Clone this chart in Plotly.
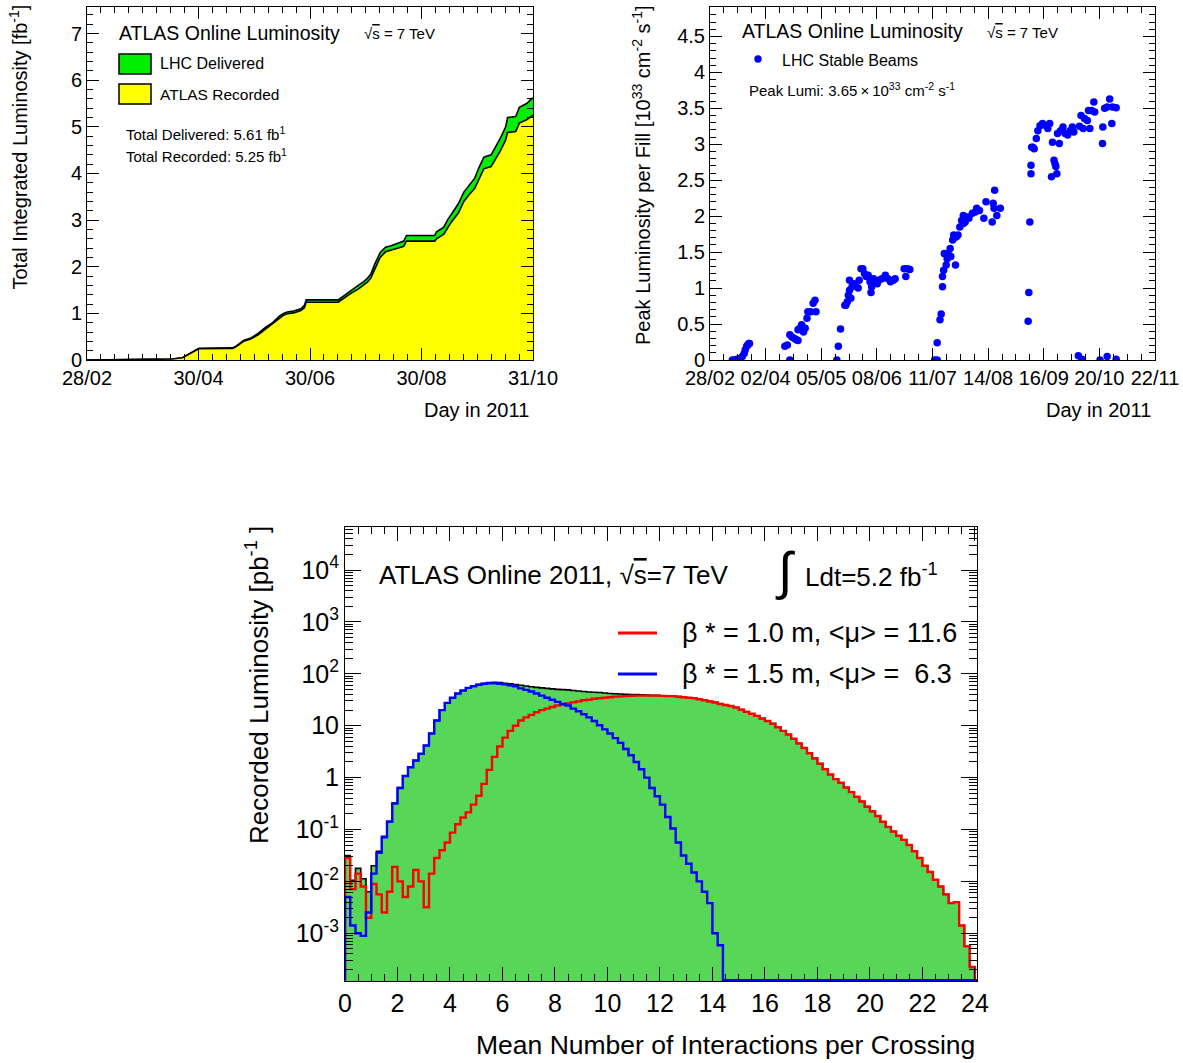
import numpy as np
import pandas as pd
import plotly.graph_objects as go

W, H = 1183, 1063
FONT = "Liberation Sans"
START = pd.Timestamp("2011-02-28")

# ---------------- Panel 1: cumulative integrated luminosity (fb^-1) ----------------
# days after 28/02/2011
lumi_days = [0, 21, 47, 52.5, 61.4, 80, 82, 86, 90, 94, 98, 102, 106, 108, 110, 113.5,
             117.5, 119.4, 120.4, 138, 141, 145, 149, 152, 154, 156, 158, 161, 164, 167,
             171, 174, 175.5, 191, 192, 196, 198, 200, 204, 207, 210, 213, 215, 218, 222,
             225, 227, 230, 231, 235.5, 237.5, 241.5, 244.4, 245]
lhc_delivered = [0, 0.01, 0.02, 0.05, 0.25, 0.26, 0.30, 0.42, 0.47, 0.57, 0.70, 0.80, 0.95,
                 1.00, 1.03, 1.05, 1.10, 1.17, 1.29, 1.29, 1.38, 1.50, 1.60, 1.68, 1.75,
                 1.85, 2.05, 2.30, 2.42, 2.45, 2.50, 2.55, 2.67, 2.67, 2.75, 2.85, 3.00,
                 3.12, 3.35, 3.60, 3.75, 3.90, 4.10, 4.35, 4.40, 4.60, 4.75, 5.00, 5.20,
                 5.22, 5.42, 5.50, 5.61, 5.61]
atlas_recorded = [0, 0.01, 0.02, 0.05, 0.24, 0.25, 0.29, 0.40, 0.45, 0.54, 0.66, 0.76, 0.90,
                  0.96, 0.99, 1.01, 1.06, 1.12, 1.24, 1.24, 1.32, 1.43, 1.52, 1.60, 1.67,
                  1.76, 1.95, 2.20, 2.32, 2.35, 2.40, 2.44, 2.55, 2.55, 2.60, 2.70, 2.82,
                  2.95, 3.15, 3.40, 3.55, 3.68, 3.85, 4.10, 4.15, 4.35, 4.48, 4.72, 4.88,
                  4.90, 5.08, 5.15, 5.25, 5.25]
p1_ticklabels = ["28/02", "30/04", "30/06", "30/08", "31/10"]
p1_span_days = 245

# ---------------- Panel 2: peak luminosity per fill (10^33 cm^-2 s^-1) ----------------
peak_days = [13.4, 14.7, 16.2, 18.3, 19.4, 20.5, 21.1, 22.0, 22.6, 23.3, 23.7,
             44.9, 46.4, 47.9, 47.9, 49.2, 50.7, 51.8, 52.8, 52.8, 53.9, 55.0, 56.1, 57.1,
             58.2, 58.7, 60.4, 61.9, 63.0, 63.6,
             76.1, 77.0, 78.3, 80.9, 81.5, 82.4, 83.0, 83.7, 83.7, 84.5, 85.2, 86.3, 87.3,
             88.9, 89.5, 90.6, 91.7, 92.7, 93.8, 94.9, 96.0, 96.6, 97.0, 98.1, 99.2, 100.3,
             101.4, 103.1, 105.2, 106.8, 108.3, 110.0, 111.1, 116.5, 117.5, 118.6, 119.9,
             134.8, 136.3, 136.3, 138.0, 138.7, 139.5, 139.5, 140.2, 140.6, 141.7, 142.3,
             142.8, 144.1, 144.5, 145.6, 146.2, 147.3, 147.7, 148.8, 149.9, 151.0, 152.0,
             152.0, 153.1, 154.2, 155.3, 157.4, 159.2, 160.0, 161.7, 164.3, 165.6, 169.3,
             169.9, 170.4, 170.8, 172.1, 174.2,
             190.9, 191.3, 191.9, 192.6, 192.6, 193.0, 193.7, 194.5, 195.8, 196.7, 198.0,
             199.5, 201.6, 202.7, 203.8, 204.9, 205.5, 206.4, 207.0, 207.5, 208.1, 208.5,
             209.6, 210.3, 211.8, 213.1, 214.6, 216.1, 217.4, 218.3, 221.0, 221.7, 222.6,
             223.2, 223.9, 224.7, 226.4, 227.1, 227.9, 229.0, 230.3, 230.8, 234.0, 235.5,
             235.7, 236.8, 238.3, 238.3, 239.8, 241.1, 241.5, 243.7, 243.7]
peak_lumi = [0.0, 0.0, 0.01, 0.02, 0.05, 0.09, 0.14, 0.19, 0.21, 0.23, 0.23,
             0.19, 0.21, 0.0, 0.35, 0.32, 0.30, 0.28, 0.27, 0.42, 0.44, 0.49, 0.39, 0.44,
             0.58, 0.67, 0.67, 0.79, 0.83, 0.67,
             0.0, 0.19, 0.43, 0.76, 0.76, 0.81, 0.90, 0.97, 1.11, 0.86, 1.02, 1.06, 1.04,
             1.00, 1.11, 1.27, 1.27, 1.20, 1.16, 1.18, 1.09, 0.94, 1.02, 1.13, 1.09, 1.06,
             1.11, 1.13, 1.18, 1.13, 1.09, 1.11, 1.13, 1.27, 1.16, 1.27, 1.26,
             0.0, 0.0, 0.24, 0.56, 0.64, 1.02, 1.16, 1.25, 1.48, 1.32, 1.41,
             1.48, 1.55, 1.44, 1.67, 1.74, 1.32, 1.71, 1.74, 1.85, 1.94, 2.01,
             1.90, 1.92, 1.99, 1.97, 2.04, 2.06, 2.11, 2.08, 1.97, 2.20, 1.92,
             2.18, 2.11, 2.36, 2.01, 2.11,
             0.54, 0.94, 1.92, 2.59, 2.71, 2.96, 2.96, 2.94, 3.08, 3.19, 3.26,
             3.29, 3.26, 3.22, 3.29, 2.55, 3.03, 2.78, 2.73, 2.69, 2.59, 3.15,
             3.01, 3.19, 3.24, 3.15, 3.13, 3.19, 3.24, 3.17, 0.06, 3.25, 3.40,
             0.01, 3.22, 3.36, 3.33, 3.47, 3.22, 3.47, 3.59, 3.45, 0.0, 3.01,
             3.24, 3.50, 0.05, 3.52, 3.63, 3.29, 3.52, 0.01, 3.51]
p2_ticklabels = ["28/02", "02/04", "05/05", "08/06", "11/07", "14/08", "16/09", "20/10", "22/11"]
p2_span_days = 267

# ---------------- Panel 3: recorded luminosity vs <mu> (log10 of pb^-1), bins of 0.2 ----------------
BIN_W = 0.2
# beta* = 1.5 m ; bins from mu=0 ; None = empty bin (above mu = 14.4)
beta15_log10 = [-2.3, -2.85, -3.0, -3.05, -2.6, -1.85, -1.45, -1.15, -0.85, -0.5,
                -0.2, 0.03, 0.2, 0.33, 0.46, 0.62, 0.85, 1.1, 1.3, 1.44,
                1.54, 1.62, 1.68, 1.73, 1.76, 1.79, 1.81, 1.82, 1.82, 1.81,
                1.8, 1.78, 1.76, 1.72, 1.69, 1.66, 1.62, 1.58, 1.54, 1.5,
                1.46, 1.42, 1.39, 1.33, 1.28, 1.22, 1.16, 1.09, 1.01, 0.93,
                0.85, 0.76, 0.67, 0.55, 0.43, 0.3, 0.16, 0.0, -0.2, -0.36,
                -0.52, -0.76, -0.98, -1.25, -1.5, -1.66, -1.83, -2.0, -2.2, -2.42,
                -3.0, -3.23] + [None] * 49
# beta* = 1.0 m
beta10_log10 = [-1.55, -2.15, -1.85, -2.1, -2.7, -2.05, -2.25, -2.6, -2.2, -1.72,
                -2.0, -2.3, -2.1, -1.78, -2.0, -2.5, -1.85, -1.55, -1.4, -1.25,
                -1.06, -0.9, -0.77, -0.67, -0.52, -0.35, -0.12, 0.15, 0.4, 0.6,
                0.77, 0.9, 1.0, 1.1, 1.16, 1.21, 1.26, 1.3, 1.33, 1.36,
                1.39, 1.41, 1.43, 1.45, 1.47, 1.49, 1.5, 1.52, 1.53, 1.54,
                1.55, 1.56, 1.565, 1.57, 1.575, 1.58, 1.58, 1.58, 1.58, 1.58,
                1.575, 1.57, 1.57, 1.56, 1.55, 1.54, 1.53, 1.51, 1.49, 1.47,
                1.45, 1.42, 1.4, 1.38, 1.35, 1.31, 1.27, 1.23, 1.19, 1.14,
                1.09, 1.04, 0.97, 0.9, 0.83, 0.75, 0.66, 0.57, 0.47, 0.37,
                0.27, 0.16, 0.06, -0.03, -0.1, -0.19, -0.28, -0.37, -0.46, -0.56,
                -0.65, -0.74, -0.85, -0.95, -1.04, -1.12, -1.2, -1.3, -1.42, -1.55,
                -1.7, -1.82, -1.97, -2.1, -2.25, -2.42, -2.4, -2.85, -3.25, -3.65,
                None]
# all fills; above mu = 12 it coincides with the beta* = 1.0 m curve
all_low_log10 = [-1.5, -1.98, -1.75, -1.95, -2.2, -1.7, -1.42, -1.13, -0.84, -0.49,
                 -0.19, 0.035, 0.2, 0.33, 0.46, 0.62, 0.85, 1.1, 1.3, 1.44,
                 1.54, 1.62, 1.68, 1.73, 1.765, 1.795, 1.815, 1.83, 1.835, 1.83,
                 1.82, 1.81, 1.795, 1.78, 1.765, 1.75, 1.74, 1.73, 1.72, 1.71,
                 1.70, 1.695, 1.69, 1.68, 1.67, 1.66, 1.65, 1.645, 1.64, 1.63,
                 1.62, 1.615, 1.61, 1.605, 1.60, 1.60, 1.595, 1.59, 1.585, 1.585]
all_log10 = all_low_log10 + beta10_log10[len(all_low_log10):]
legend3_labels = ["\u03b2 * = 1.0 m, <\u03bc> = 11.6", "\u03b2 * = 1.5 m, <\u03bc> = \u00a06.3"]
log_ticklabels = ["10<sup>-3</sup>", "10<sup>-2</sup>", "10<sup>-1</sup>", "1", "10",
                  "10<sup>2</sup>", "10<sup>3</sup>", "10<sup>4</sup>"]

assert len(lumi_days) == len(lhc_delivered) == len(atlas_recorded)
assert len(peak_days) == len(peak_lumi)
assert len(beta15_log10) == len(beta10_log10) == len(all_log10) == 121

# ---------------- helpers ----------------
def PX(x):
    return x / W


def PY(y):
    return 1 - y / H


def to_dates(days):
    return [START + pd.Timedelta(days=float(d)) for d in days]


Y3_MIN, Y3_MAX = -3.92, 4.83
EMPTY = 10 ** -3.905
edges = np.round(np.arange(len(beta10_log10) + 1) * BIN_W, 3)


def step_xy(logvals):
    vals = [10 ** v if v is not None else EMPTY for v in logvals]
    x = [edges[0]] + list(edges[:-1]) + [edges[-1]]
    y = [EMPTY] + vals + [vals[-1]]
    return x, y


fig = go.Figure()

# Panel 1
d1 = to_dates(lumi_days)
fig.add_trace(go.Scatter(x=d1, y=lhc_delivered, mode="lines", fill="tozeroy",
                         fillcolor="#00ee00", line=dict(color="black", width=1.6),
                         xaxis="x", yaxis="y", showlegend=False, hoverinfo="skip"))
fig.add_trace(go.Scatter(x=d1, y=atlas_recorded, mode="lines", fill="tozeroy",
                         fillcolor="#ffff00", line=dict(color="black", width=1.6),
                         xaxis="x", yaxis="y", showlegend=False, hoverinfo="skip"))

# Panel 2
fig.add_trace(go.Scatter(x=to_dates(peak_days), y=peak_lumi, mode="markers",
                         marker=dict(color="#0000ff", size=7.5, line=dict(width=0)),
                         xaxis="x2", yaxis="y2", showlegend=False, hoverinfo="skip"))

# Panel 3
fig.add_trace(go.Scatter(x=[edges[0], edges[-1]], y=[1e-6, 1e-6], mode="lines",
                         line=dict(width=0), xaxis="x3", yaxis="y3", showlegend=False,
                         hoverinfo="skip"))
xa, ya = step_xy(all_log10)
fig.add_trace(go.Scatter(x=xa, y=ya, mode="lines", line_shape="hv", fill="tonexty",
                         fillcolor="#58d658", line=dict(color="black", width=1.6),
                         xaxis="x3", yaxis="y3", showlegend=False, hoverinfo="skip"))
xr, yr = step_xy(beta10_log10)
fig.add_trace(go.Scatter(x=xr, y=yr, mode="lines", line_shape="hv",
                         line=dict(color="#ff0000", width=2.4),
                         xaxis="x3", yaxis="y3", showlegend=False, hoverinfo="skip"))
xb, yb = step_xy(beta15_log10)
fig.add_trace(go.Scatter(x=xb, y=yb, mode="lines", line_shape="hv",
                         line=dict(color="#0000ff", width=2.4),
                         xaxis="x3", yaxis="y3", showlegend=False, hoverinfo="skip"))

frame = dict(showline=True, linecolor="black", linewidth=1, mirror="allticks",
             ticks="inside", tickcolor="black", tickwidth=1, showgrid=False,
             zeroline=False, automargin=False)

p1_ticks = to_dates(np.linspace(0, p1_span_days, len(p1_ticklabels)))
p1_minor = to_dates(np.linspace(0, p1_span_days, 4 * (len(p1_ticklabels) - 1) * 2 + 1))
p2_ticks = to_dates(np.linspace(0, p2_span_days, len(p2_ticklabels)))
p2_minor = to_dates(np.linspace(0, p2_span_days, 4 * (len(p2_ticklabels) - 1) + 1))
log_minor = [k * 10.0 ** d for d in range(-4, 5) for k in range(2, 10)]

fig.update_layout(
    width=W, height=H, margin=dict(l=0, r=0, t=0, b=0, autoexpand=False),
    paper_bgcolor="white", plot_bgcolor="white",
    font=dict(family=FONT, color="black"),
    xaxis=dict(frame, domain=[PX(87), PX(533)], anchor="y", type="date",
               range=[START, START + pd.Timedelta(days=p1_span_days)],
               tickmode="array", tickvals=p1_ticks, ticktext=p1_ticklabels,
               ticklen=12, tickfont=dict(size=20),
               minor=dict(tickmode="array", tickvals=p1_minor, ticks="inside",
                          ticklen=6, tickcolor="black")),
    yaxis=dict(frame, domain=[PY(360), PY(7)], anchor="x", range=[0, 7.57],
               dtick=1, ticklen=12, tickfont=dict(size=20),
               minor=dict(dtick=0.2, ticks="inside", ticklen=6, tickcolor="black")),
    xaxis2=dict(frame, domain=[PX(710), PX(1155)], anchor="y2", type="date",
                range=[START, START + pd.Timedelta(days=p2_span_days)],
                tickmode="array", tickvals=p2_ticks, ticktext=p2_ticklabels,
                ticklen=12, tickfont=dict(size=20),
                minor=dict(tickmode="array", tickvals=p2_minor, ticks="inside",
                           ticklen=6, tickcolor="black")),
    yaxis2=dict(frame, domain=[PY(360), PY(7)], anchor="x2", range=[0, 4.91],
                dtick=0.5, ticklen=12, tickfont=dict(size=20),
                minor=dict(dtick=0.1, ticks="inside", ticklen=6, tickcolor="black")),
    xaxis3=dict(frame, domain=[PX(345), PX(977)], anchor="y3", range=[0, 24.08],
                dtick=2, ticklen=14, tickfont=dict(size=25),
                minor=dict(dtick=0.5, ticks="inside", ticklen=7, tickcolor="black")),
    yaxis3=dict(frame, domain=[PY(981), PY(527)], anchor="x3", type="log",
                range=[Y3_MIN, Y3_MAX], tickmode="array",
                tickvals=[10.0 ** k for k in range(-3, 5)], ticktext=log_ticklabels,
                ticklen=16, tickfont=dict(size=25),
                minor=dict(tickmode="array", tickvals=log_minor, ticks="inside",
                           ticklen=8, tickcolor="black")),
)

ann = []


def text(x, y, s, size, xanchor="left", yanchor="middle", angle=0):
    ann.append(dict(x=PX(x), y=PY(y), xref="paper", yref="paper", text=s,
                    showarrow=False, xanchor=xanchor, yanchor=yanchor,
                    textangle=angle, font=dict(size=size, family=FONT, color="black")))


SQRT_S = "\u221a<span style='text-decoration:overline'>s</span>"

# Panel 1 texts
text(117, 33, "ATLAS Online Luminosity", 19.5)
text(362, 34, SQRT_S + " = 7 TeV", 15)
text(158, 64, "LHC Delivered", 16)
text(158, 94, "ATLAS Recorded", 15.5)
text(124, 133, "Total Delivered: 5.61 fb<sup>1</sup>", 15)
text(124, 155, "Total Recorded: 5.25 fb<sup>1</sup>", 15)
text(18, 3, "Total Integrated Luminosity [fb<sup>-1</sup>]", 20, "center", "top", -90)
text(531, 410, "Day in 2011", 20, "right")

# Panel 2 texts
text(740, 31, "ATLAS Online Luminosity", 19.5)
text(985, 32, SQRT_S + " = 7 TeV", 15)
text(780, 60, "LHC Stable Beams", 16)
text(747, 89, "Peak Lumi: 3.65\u2009\u00d7\u200910<sup>33</sup> cm<sup>-2</sup> s<sup>-1</sup>", 15)
text(642, 3, "Peak Luminosity per Fill [10<sup>33</sup> cm<sup>-2</sup> s<sup>-1</sup>]",
     20, "center", "top", -90)
text(1153, 410, "Day in 2011", 20, "right")

# Panel 3 texts
text(377, 575, "ATLAS Online 2011, " + SQRT_S + "=7 TeV", 26)
text(785, 571, "\u222b", 52, "center")
text(803, 575, "Ldt=5.2 fb<sup>-1</sup>", 26)
text(680, 633, legend3_labels[0], 27)
text(680, 674, legend3_labels[1], 27)
text(257, 524, "Recorded Luminosity [pb<sup>-1</sup> ]", 26, "center", "top", -90)
text(977, 1045, "Mean Number of Interactions per Crossing", 26.5, "right")

shapes = [
    dict(type="rect", xref="paper", yref="paper", x0=PX(119), x1=PX(151), y0=PY(74),
         y1=PY(54), fillcolor="#00ee00", line=dict(color="black", width=1.5)),
    dict(type="rect", xref="paper", yref="paper", x0=PX(119), x1=PX(151), y0=PY(104),
         y1=PY(84), fillcolor="#ffff00", line=dict(color="black", width=1.5)),
    dict(type="circle", xref="paper", yref="paper", x0=PX(754.3), x1=PX(761.7),
         y0=PY(62.7), y1=PY(55.3), fillcolor="#0000ff", line=dict(width=0)),
    dict(type="line", xref="paper", yref="paper", x0=PX(618), x1=PX(657), y0=PY(633),
         y1=PY(633), line=dict(color="#ff0000", width=3)),
    dict(type="line", xref="paper", yref="paper", x0=PX(618), x1=PX(657), y0=PY(674),
         y1=PY(674), line=dict(color="#0000ff", width=3)),
]

fig.update_layout(annotations=ann, shapes=shapes)
fig.write_html("out.html")
